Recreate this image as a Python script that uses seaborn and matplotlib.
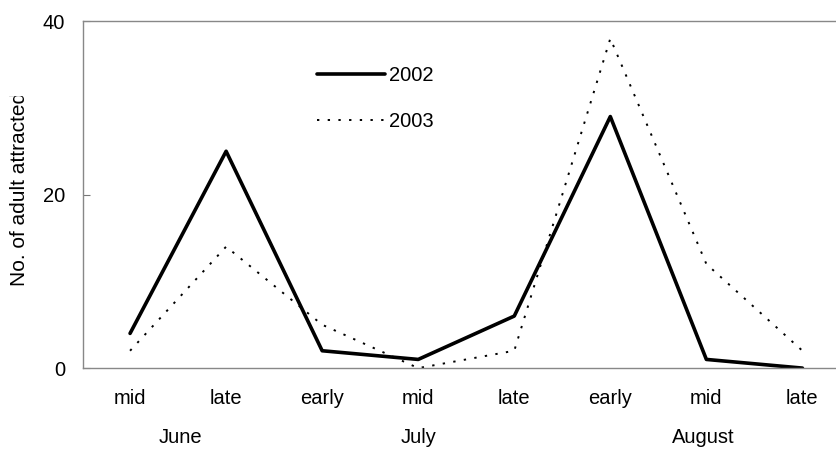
import numpy as np
import pandas as pd
import seaborn as sns
import matplotlib
matplotlib.use("Agg")
import matplotlib.pyplot as plt
from matplotlib.transforms import Bbox, TransformedBbox

# data
periods = ["mid", "late", "early", "mid", "late", "early", "mid", "late"]
y2002 = [4, 25, 2, 1, 6, 29, 1, 0]
y2003 = [2, 14, 5, 0, 2, 38, 12, 2]
months = ["June", "July", "August"]
month_pos = [0.52, 3.0, 5.97]

df = pd.DataFrame({"x": np.arange(len(periods)), "y2002": y2002, "y2003": y2003})

sns.set_style("white")
plt.rcParams["font.family"] = ["Liberation Sans", "DejaVu Sans"]
plt.rcParams["text.color"] = "black"
plt.rcParams["xtick.color"] = "black"
plt.rcParams["ytick.color"] = "black"

fig = plt.figure(figsize=(8.37, 4.5), dpi=100)
ax = fig.add_axes([83 / 837, 0.182, 1 - 83 / 837, 0.953 - 0.182])

sns.lineplot(data=df, x="x", y="y2002", ax=ax, color="black", lw=2.6, label="2002")
sns.lineplot(data=df, x="x", y="y2003", ax=ax, color="black", lw=1.4,
             linestyle=(0, (1.2, 4.3)), label="2003")

ax.set_xlim(-0.49, 7.36)
ax.set_ylim(0, 40)
ax.set_yticks([0, 20, 40])
ax.set_xticks(df["x"])
ax.set_xticklabels(periods)
ax.set_xlabel("")
ax.set_ylabel("")
ax.tick_params(axis="x", length=0, pad=15, labelsize=14.5)
ax.tick_params(axis="y", direction="in", length=5, width=0.8, color="#777777",
               labelcolor="black", pad=13, labelsize=14.5, left=True)

for side in ["left", "top", "bottom"]:
    ax.spines[side].set_color("#888888")
    ax.spines[side].set_linewidth(1.0)
ax.spines["right"].set_visible(False)

for m, p in zip(months, month_pos):
    ax.text(p, -0.2, m, transform=ax.get_xaxis_transform(), ha="center",
            va="center", fontsize=14.5)

leg = ax.legend(loc="upper left", bbox_to_anchor=(317 / 837, 0.853),
                bbox_transform=fig.transFigure, frameon=False, fontsize=14.5,
                handlelength=3.4, handletextpad=0.2, labelspacing=1.35,
                borderpad=0, borderaxespad=0)

# y label, cut off at the top as in the source
yl = fig.text(20 / 837, 1 - 286 / 450, "No. of adult attracted", rotation=90,
              ha="center", va="bottom", fontsize=15)
clip = TransformedBbox(Bbox.from_extents(0, 0, 83 / 837, 1 - 96 / 450), fig.transFigure)
yl.set_clip_box(clip)
yl.set_clip_on(True)

fig.savefig("out.png", dpi=100)
